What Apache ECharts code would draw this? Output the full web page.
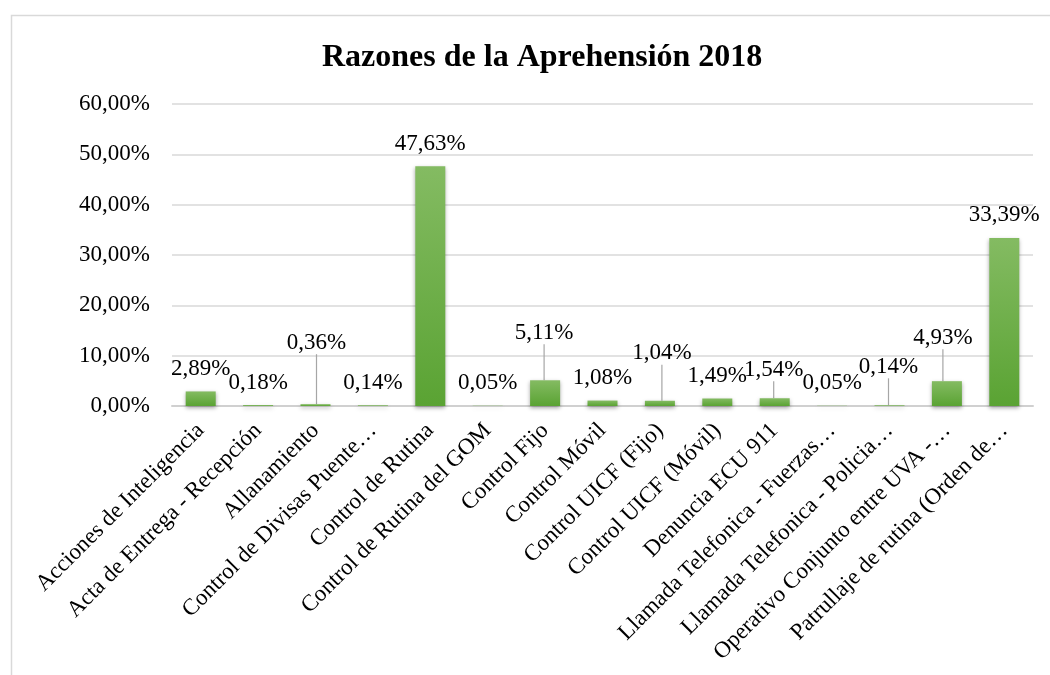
<!DOCTYPE html>
<html>
<head>
<meta charset="utf-8">
<script src="https://cdn.jsdelivr.net/npm/echarts@6/dist/echarts.min.js"></script>
<style>
  html, body { margin: 0; padding: 0; background: #ffffff; }
  #chart { width: 1050px; height: 675px; }
</style>
</head>
<body>
<div id="chart"></div>
<script>
const title = 'Razones de la Aprehensión 2018';
const categories = [
  'Acciones de Inteligencia',
  'Acta de Entrega - Recepción',
  'Allanamiento',
  'Control de Divisas Puente…',
  'Control de Rutina',
  'Control de Rutina del GOM',
  'Control Fijo',
  'Control Móvil',
  'Control UICF (Fijo)',
  'Control UICF (Móvil)',
  'Denuncia ECU 911',
  'Llamada Telefonica - Fuerzas…',
  'Llamada Telefonica - Policia…',
  'Operativo Conjunto entre UVA -…',
  'Patrullaje de rutina (Orden de…'
];
const values = [2.89, 0.18, 0.36, 0.14, 47.63, 0.05, 5.11, 1.08, 1.04, 1.49, 1.54, 0.05, 0.14, 4.93, 33.39];
const yTicks = [0, 10, 20, 30, 40, 50, 60];

// label offsets (Excel "best fit" placements) and which labels have leader lines
const labelShift = {2: [1, -39], 6: [-1, -25], 8: [2, -25], 10: [-1, -6], 12: [-1, -16], 13: [-4, -21]};

const fmt = v => v.toFixed(2).replace('.', ',') + '%';
const FONT = '"Liberation Serif", "Times New Roman", serif';

const chart = echarts.init(document.getElementById('chart'));
chart.setOption({
  backgroundColor: '#ffffff',
  animation: false,
  graphic: [{
    type: 'rect',
    left: 9, top: 13,
    shape: { width: 1100, height: 700 },
    style: { fill: 'none', stroke: '#d9d9d9', lineWidth: 1.5 },
    silent: true
  }],
  title: {
    text: title,
    left: 317,
    top: 37,
    textStyle: { fontFamily: FONT, fontSize: 32, fontWeight: 'bold', color: '#000' }
  },
  grid: { left: 172, right: 17, top: 104, bottom: 269, containLabel: false },
  xAxis: {
    type: 'category',
    data: categories,
    axisTick: { show: false },
    axisLine: { lineStyle: { color: '#d0d0d0', width: 2 } },
    axisLabel: {
      interval: 0, rotate: 45, margin: 21,
      fontFamily: FONT, fontSize: 23, color: '#000'
    }
  },
  yAxis: {
    type: 'value',
    min: yTicks[0], max: yTicks[yTicks.length - 1], interval: 10,
    axisLine: { show: false },
    axisTick: { show: false },
    splitLine: { lineStyle: { color: '#d9d9d9', width: 1.5 } },
    axisLabel: {
      margin: 22,
      fontFamily: FONT, fontSize: 23, color: '#000',
      formatter: v => fmt(v)
    }
  },
  series: [{
    type: 'bar',
    barWidth: 30,
    data: values.map((v, i) => ({
      value: v,
      labelLine: { show: labelShift[i] !== undefined }
    })),
    itemStyle: {
      color: new echarts.graphic.LinearGradient(0, 0, 0, 1, [
        { offset: 0, color: '#84bb62' },
        { offset: 1, color: '#5aa333' }
      ]),
      shadowColor: 'rgba(0,0,0,0.35)',
      shadowBlur: 4,
      shadowOffsetY: 2
    },
    label: {
      show: true,
      position: 'top',
      distance: 11,
      fontFamily: FONT, fontSize: 23, color: '#000',
      formatter: p => fmt(p.value)
    },
    labelLine: {
      show: false,
      lineStyle: { color: '#a6a6a6', width: 1.2 }
    },
    labelLayout: function (params) {
      const s = labelShift[params.dataIndex];
      if (!s) return {};
      return { dx: s[0], dy: s[1] };
    }
  }]
});
</script>
</body>
</html>
